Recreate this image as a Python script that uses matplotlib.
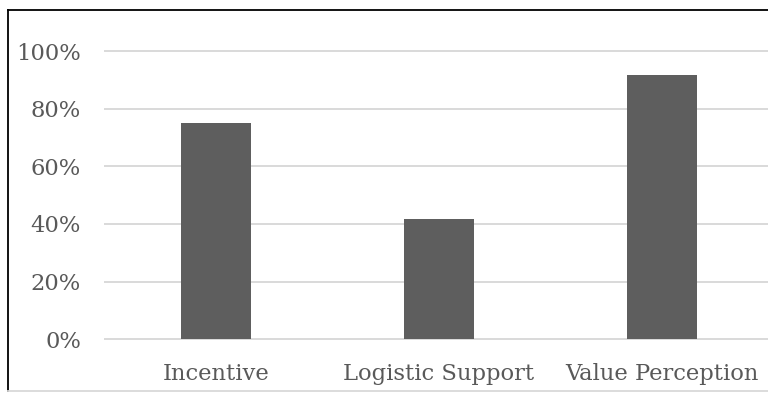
import matplotlib
matplotlib.use("Agg")
import matplotlib.pyplot as plt
from matplotlib.ticker import PercentFormatter
from matplotlib.lines import Line2D

categories = ["Incentive", "Logistic Support", "Value Perception"]
values = [75.0, 41.7, 91.7]
yticks = [0, 20, 40, 60, 80, 100]

W, H = 768, 393
fig = plt.figure(figsize=(W / 100, H / 100), dpi=100)

# plot area in pixel terms
left_px, right_px = 104.5, 773.5
bottom_px, top_px = 339.3, 51.0
ax = fig.add_axes([left_px / W, 1 - bottom_px / H,
                   (right_px - left_px) / W, (bottom_px - top_px) / H])

text_color = "#595959"
font = "DejaVu Serif"

x = range(len(categories))
ax.bar(x, values, width=0.314, color="#5e5e5e", zorder=3)
ax.set_xlim(-0.5, len(categories) - 0.5)
ax.set_ylim(0, 100)
ax.set_yticks(yticks)
ax.yaxis.set_major_formatter(PercentFormatter(decimals=0))
ax.set_xticks(list(x))
ax.set_xticklabels(categories)

ax.grid(axis="y", color="#d9d9d9", linewidth=1.4, zorder=0)
for s in ax.spines.values():
    s.set_visible(False)
ax.tick_params(axis="both", length=0, colors=text_color, labelsize=16.3)
ax.tick_params(axis="y", pad=17)
ax.tick_params(axis="x", pad=17)
for lab in ax.get_xticklabels() + ax.get_yticklabels():
    lab.set_family(font)
    lab.set_color(text_color)
for gl in ax.get_ygridlines():
    gl.set_clip_on(False)

# outer chart frame
fig.add_artist(Line2D([7.7 / W, 7.7 / W], [1 - 390.5 / H, 1 - 10.3 / H], color="black", linewidth=1.3))
fig.add_artist(Line2D([7.7 / W, 1], [1 - 10.3 / H, 1 - 10.3 / H], color="black", linewidth=1.3))
fig.add_artist(Line2D([7.7 / W, 1], [1 - 390.5 / H, 1 - 390.5 / H], color="#d9d9d9", linewidth=1.3))

fig.savefig("out.png", dpi=100)
